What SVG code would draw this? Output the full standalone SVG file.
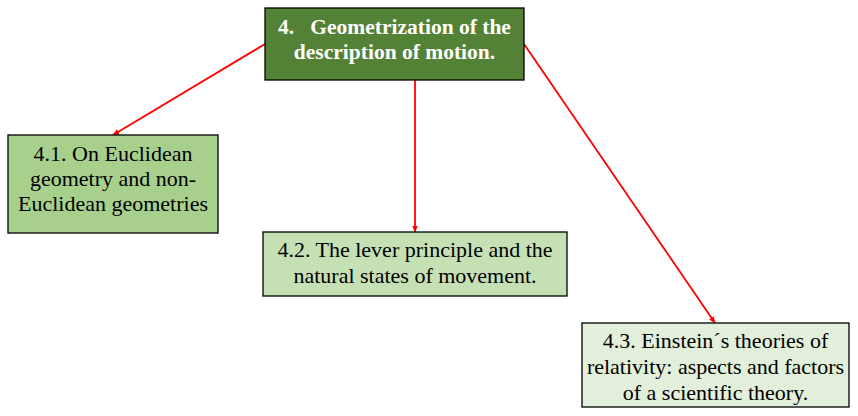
<svg xmlns="http://www.w3.org/2000/svg" width="858" height="416" viewBox="0 0 858 416">
<style>
.box{stroke:#000;stroke-width:1.3}
.t{font-family:"Liberation Serif","Times New Roman",serif;font-size:22px;fill:#000;text-anchor:middle}
.h{font-family:"Liberation Serif","Times New Roman",serif;font-size:21.5px;font-weight:bold;fill:#fff;text-anchor:middle}
.c{stroke:#f00;stroke-width:1.8;fill:none;marker-end:url(#a)}
</style>
<defs>
<marker id="a" viewBox="0 0 10 10" refX="9" refY="5" markerWidth="7" markerHeight="7" orient="auto" markerUnits="userSpaceOnUse">
<path d="M0,1 L10,5 L0,9 z" fill="#f00"/>
</marker>
</defs>
<rect width="858" height="416" fill="#fff"/>
<g id="connectors">
<line class="c" x1="265" y1="44" x2="113" y2="135"/>
<line class="c" x1="415" y1="80" x2="415" y2="232"/>
<line class="c" x1="524" y1="44" x2="715" y2="323"/>
</g>
<g id="n4">
<rect class="box" x="265" y="8" width="259" height="72" fill="#538135"/>
<text class="h" x="394.5" y="34"><tspan x="394.5" xml:space="preserve">4.   Geometrization of the</tspan><tspan x="394.5" dy="25">description of motion.</tspan></text>
</g>
<g id="n41">
<rect class="box" x="8" y="135" width="210" height="98" fill="#A8D08D"/>
<text class="t" x="113" y="161"><tspan x="113">4.1. On Euclidean</tspan><tspan x="113" dy="25">geometry and non-</tspan><tspan x="113" dy="25">Euclidean geometries</tspan></text>
</g>
<g id="n42">
<rect class="box" x="263" y="232" width="304" height="64" fill="#C5E0B4"/>
<text class="t" x="415" y="257"><tspan x="415">4.2. The lever principle and the</tspan><tspan x="415" dy="26">natural states of movement.</tspan></text>
</g>
<g id="n43">
<rect class="box" x="582" y="323" width="267" height="84" fill="#E2EFDA"/>
<text class="t" x="715.5" y="348"><tspan x="715.5">4.3. Einstein´s theories of</tspan><tspan x="715.5" dy="26">relativity: aspects and factors</tspan><tspan x="715.5" dy="26">of a scientific theory.</tspan></text>
</g>
</svg>
